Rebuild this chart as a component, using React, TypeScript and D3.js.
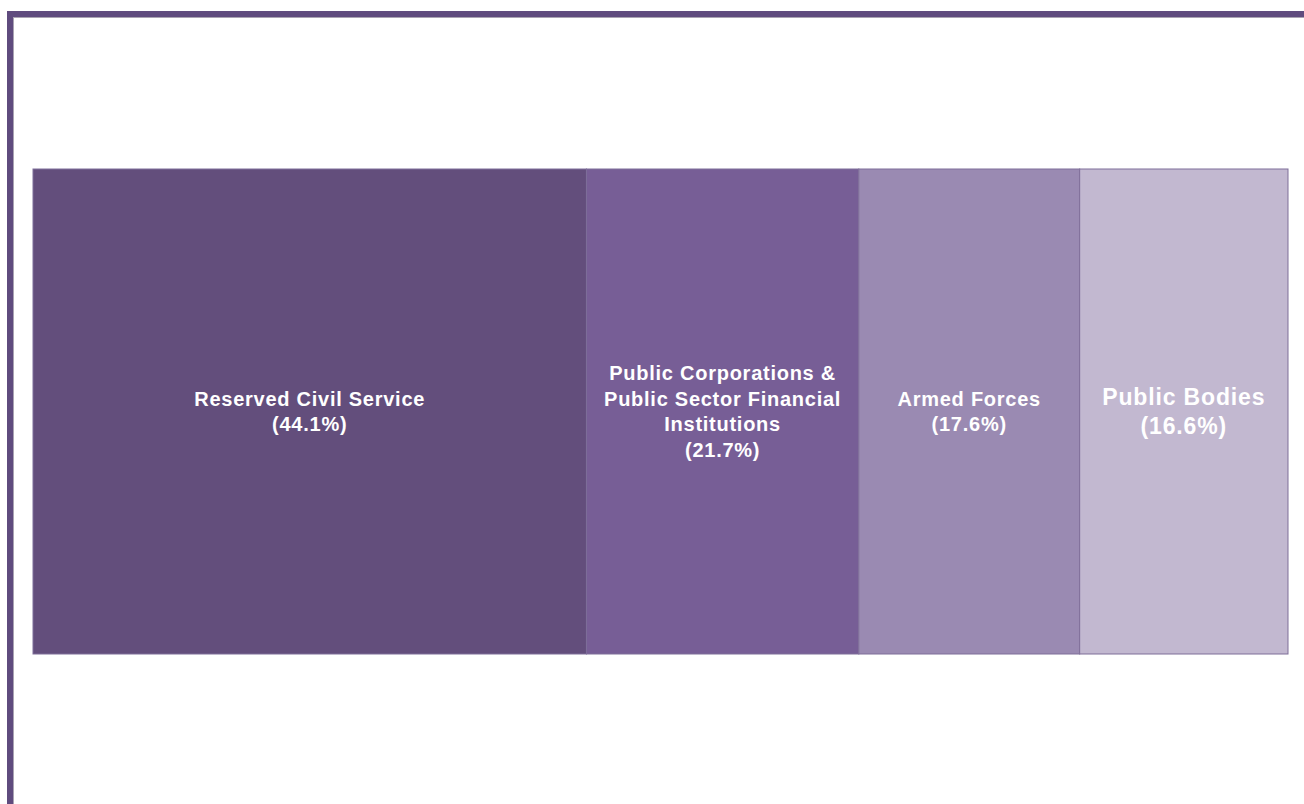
import React from 'react';
import * as d3 from 'd3';

const categories = ['Reserved Civil Service', 'Public Corporations & Public Sector Financial Institutions', 'Armed Forces', 'Public Bodies'];
const shares = [44.1, 21.7, 17.6, 16.6];
const labelLines = [
  ['Reserved Civil Service'],
  ['Public Corporations &', 'Public Sector Financial', 'Institutions'],
  ['Armed Forces'],
  ['Public Bodies'],
];
const colors = ['#634e7c', '#775e96', '#9a8ab2', '#c2b8d0'];
const fontSizes = [20, 20, 20, 23];

const W = 1304;
const H = 804;
const plot = { left: 33, right: 1288, top: 169, bottom: 654 };

export default function App() {
  const starts = shares.reduce<number[]>((acc, v, i) => {
    acc.push(i === 0 ? 0 : acc[i - 1] + shares[i - 1]);
    return acc;
  }, []);
  const x = d3.scaleLinear().domain([0, d3.sum(shares)]).range([plot.left, plot.right]);
  const cy = (plot.top + plot.bottom) / 2;

  return (
    <div style={{ position: 'fixed', left: 0, top: 0, width: W, height: H, background: '#fff' }}>
      <svg width={W} height={H} style={{ display: 'block', fontFamily: 'Liberation Sans, Arial, sans-serif' }}>
        {/* frame */}
        <rect x={13} y={17} width={W} height={1} fill="#a9a3b2" />
        <rect x={13} y={17} width={1} height={H} fill="#a9a3b2" />
        <rect x={7} y={11} width={W} height={6} fill="#5f4b7e" />
        <rect x={7} y={11} width={6} height={H} fill="#5f4b7e" />

        {categories.map((c, i) => {
          const x0 = x(starts[i]);
          const x1 = x(starts[i] + shares[i]);
          const lines = [...labelLines[i], `(${shares[i].toFixed(1)}%)`];
          const fs = fontSizes[i];
          const lh = fs * 1.27;
          const firstY = cy - ((lines.length - 1) * lh) / 2;
          return (
            <g key={c}>
              <rect x={x0} y={plot.top} width={x1 - x0} height={plot.bottom - plot.top}
                fill={colors[i]} stroke="#7e6e99" strokeWidth={1} />
              <text textAnchor="middle" fill="#fff" fontWeight="bold" fontSize={fs}
                letterSpacing={fs * 0.037}>
                {lines.map((l, j) => (
                  <tspan key={j} x={(x0 + x1) / 2} y={firstY + j * lh} dy="0.35em">{l}</tspan>
                ))}
              </text>
            </g>
          );
        })}
      </svg>
    </div>
  );
}
